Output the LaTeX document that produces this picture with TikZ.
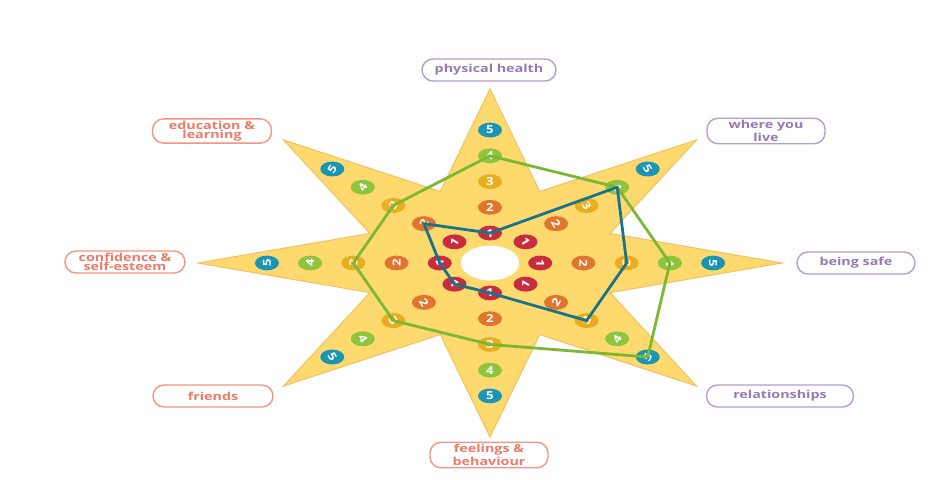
\documentclass[tikz,border=0pt]{standalone}
\usepackage{fontspec}
\newfontfamily\labfont[FakeStretch=1.3]{Open Sans}
\newfontfamily\digfont[FakeStretch=1.2]{Open Sans}
\usetikzlibrary{shapes.geometric}
\definecolor{starfill}{RGB}{253,217,110}
\definecolor{starline}{RGB}{244,192,96}
\definecolor{cone}{RGB}{200,45,62}
\definecolor{ctwo}{RGB}{224,118,46}
\definecolor{cthree}{RGB}{232,174,32}
\definecolor{cfour}{RGB}{142,196,62}
\definecolor{cfive}{RGB}{26,150,180}
\definecolor{greenln}{RGB}{124,184,52}
\definecolor{tealln}{RGB}{24,116,138}
\definecolor{purpline}{RGB}{182,156,206}
\definecolor{purptext}{RGB}{150,122,178}
\definecolor{salmline}{RGB}{240,150,130}
\definecolor{salmtext}{RGB}{236,122,104}
\tikzset{
  badge/.style={ellipse, minimum width=12pt, minimum height=7.4pt, inner sep=0pt, text=white,
    font=\digfont\bfseries\fontsize{5.5pt}{5.5pt}\selectfont},
  lab/.style={draw, rounded corners=5.5pt, minimum height=11pt, line width=0.7pt, inner sep=1pt,
    align=center, font=\labfont\bfseries\fontsize{5.5pt}{4.6pt}\selectfont},
  plab/.style={lab, draw=purpline, text=purptext},
  slab/.style={lab, draw=salmline, text=salmtext},
  scoreline/.style={line width=1.4pt, line join=round}
}
\begin{document}
\begin{tikzpicture}[x=0.5pt,y=-0.5pt]
\useasboundingbox[fill=white] (0,0) rectangle (936,479);
\begin{scope}[shift={(490,263)}, x=146pt, y=87pt]
  % star
  \filldraw[fill=starfill, draw=starline, line width=0.5pt, line join=miter]
    (90:1) -- (67.5:0.445) -- (45:1) -- (22.5:0.445) -- (0:1) -- (-22.5:0.445) --
    (-45:1) -- (-67.5:0.445) -- (-90:1) -- (-112.5:0.445) -- (-135:1) -- (-157.5:0.445) --
    (180:1) -- (157.5:0.445) -- (135:1) -- (112.5:0.445) -- cycle;
  \fill[white] (0,0) circle (0.1);
  % badges
  \foreach \ang/\rot/\nm in {90/0/ph, 45/-59/wl, 0/-90/bs, -45/59/rel, -90/0/fb, -135/-59/fr, 180/90/ce, 135/59/el} {
    \foreach \k/\col in {1/cone, 2/ctwo, 3/cthree, 4/cfour, 5/cfive} {
      \node[badge, fill=\col] (b-\nm-\k) at (\ang:{0.172+0.148*(\k-1)}) {\rotatebox{\rot}{\k}};
    }
  }
\end{scope}
% score polygons
\draw[scoreline, greenln] (b-ph-4.center) -- (b-wl-4.center) -- (b-bs-4.center) -- (b-rel-5.center)
  -- (b-fb-3.center) -- (b-fr-3.center) -- (b-ce-3.center) -- (b-el-3.center) -- cycle;
\draw[scoreline, tealln] (b-ph-1.center) -- (b-wl-4.center) -- (b-bs-3.center) -- (b-rel-3.center)
  -- (b-fb-1.center) -- (b-fr-1.center) -- (b-ce-1.center) -- (b-el-2.center) -- cycle;
% labels
\node[plab, minimum width=67pt] (l-ph) at (489,70) {physical health};
\node[plab, minimum width=59pt] (l-wl) at (766,131) {where you\\live};
\node[plab, minimum width=59pt] (l-bs) at (856,263) {being safe};
\node[plab, minimum width=73.5pt] (l-rel) at (780,396) {relationships};
\node[slab, minimum width=59pt] (l-fb) at (489,455) {feelings \&\\behaviour};
\node[slab, minimum width=60pt] (l-fr) at (213,396) {friends};
\node[slab, minimum width=60pt] (l-ce) at (125,262) {confidence \&\\self-esteem};
\node[slab, minimum width=59.5pt] (l-el) at (212,131) {education \&\\learning};
\end{tikzpicture}
\end{document}
